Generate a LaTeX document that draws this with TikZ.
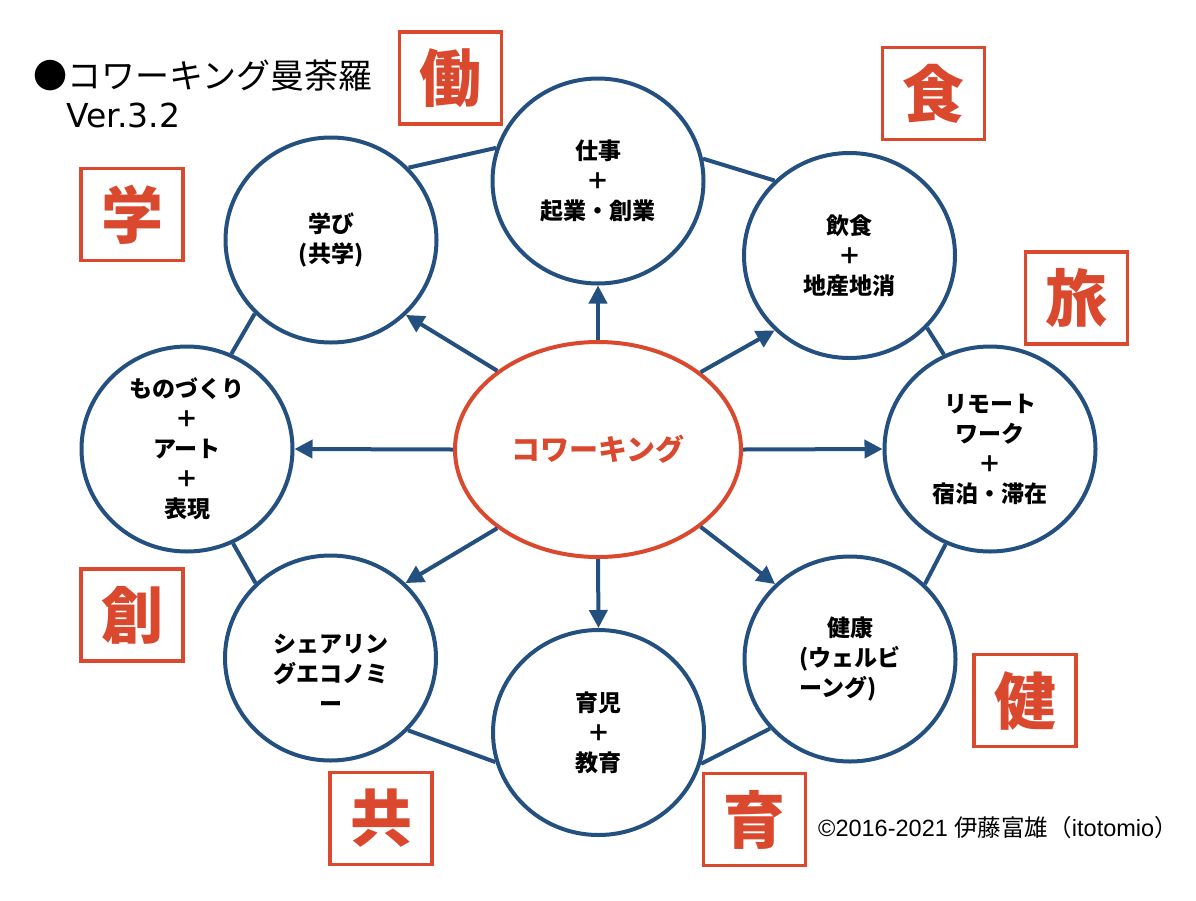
\documentclass[tikz,border=0pt]{standalone}
\usepackage{fontspec}
\usetikzlibrary{shapes.geometric,arrows.meta}
\setmainfont{Liberation Sans}
\newfontfamily\jp{Noto Sans CJK JP}
\newfontfamily\dv{DejaVu Sans}
\definecolor{myblue}{RGB}{36,80,128}
\definecolor{myred}{RGB}{218,72,46}
\begin{document}
\begin{tikzpicture}[x=1pt,y=-1pt,
  circ/.style={draw=myblue, line width=4pt, fill=white, ellipse, minimum width=211pt, minimum height=205pt, inner sep=0pt, align=center, font=\jp\bfseries\fontsize{23}{30}\selectfont},
  ctext/.style={align=center, inner sep=0pt, font=\jp\bfseries\fontsize{23}{30}\selectfont},
  hub/.style={draw=myred, line width=4pt, fill=white, ellipse, minimum width=286pt, minimum height=215pt, inner sep=0pt, text=myred, font=\jp\bfseries\fontsize{29}{30}\selectfont},
  kbox/.style={draw=myred, line width=3.5pt, fill=white, minimum width=102pt, minimum height=92pt, inner sep=0pt, text=myred, font=\jp\bfseries\fontsize{62}{62}\selectfont},
  ring/.style={draw=myblue, line width=4pt},
  arr/.style={draw=myblue, line width=4pt, -{Triangle[length=18pt,width=18pt]}},
  plain/.style={inner sep=0pt}
]
\useasboundingbox (0,0) rectangle (1196,900);
\fill[white] (0,0) rectangle (1196,900);

% title
\node[plain, anchor=west, font=\jp\fontsize{34}{34}\selectfont] (title) at (33,76) {●コワーキング曼荼羅};
\node[plain, anchor=base west, font=\dv\fontsize{33}{33}\selectfont] (ver) at (66,127) {Ver.3.2};

% hub
\node[hub] (O) at (598,449.5) {コワーキング};

% circles
\node[circ] (A) at (598,181) {仕事\\＋\\起業・創業};
\node[circ] (B) at (331,240) {学び\\(共学)};
\node[circ] (C) at (849.5,255.5) {飲食\\＋\\地産地消};
\node[circ] (D) at (187,449) {ものづくり\\＋\\アート\\＋\\表現};
\node[circ] (E) at (990,449) {リモート\\ワーク\\＋\\宿泊・滞在};
\node[circ] (F) at (330.5,658) {};
\node[ctext] (Ft) at (330.5,673) {シェアリン\\グエコノミ\\ー};
\node[circ] (G) at (850,659) {健康\\\rlap{(ウェルビ}\phantom{(ウェルビ}\\\rlap{ーング)}\phantom{(ウェルビ}};
\node[circ] (H) at (598.5,732.5) {育児\\＋\\教育};

% ring connectors
\draw[ring] (B.43.9) -- (A.162.6);
\draw[ring] (A.12) -- (C.135.7);
\draw[ring] (C.-43.9) -- (E.116.6);
\draw[ring] (E.-115) -- (G.45.7);
\draw[ring] (G.-139) -- (H.-17.2);
\draw[ring] (H.196.8) -- (F.-43.7);
\draw[ring] (F.135.9) -- (D.-64.4);
\draw[ring] (D.65.9) -- (B.-136.1);

% arrows
\draw[arr] (O.142.9) -- (B.-45);
\draw[arr] (O.90) -- (A.-90);
\draw[arr] (O.37.1) -- (C.-135);
\draw[arr] (O.0) -- (E.180);
\draw[arr] (O.-37.1) -- (G.135);
\draw[arr] (O.-90) -- (H.90);
\draw[arr] (O.-142.9) -- (F.45);
\draw[arr] (O.180) -- (D.0);

% kanji boxes
\node[kbox] (k1) at (450.5,78) {働};
\node[kbox] (k2) at (933.5,93.5) {食};
\node[kbox] (k3) at (132,214.5) {学};
\node[kbox] (k4) at (1076.5,298) {旅};
\node[kbox] (k5) at (132,615) {創};
\node[kbox] (k6) at (1025,700.5) {健};
\node[kbox] (k7) at (381,818.5) {共};
\node[kbox] (k8) at (754.5,819.5) {育};

% copyright
\node[plain, anchor=base west, font=\fontsize{23.5}{23.5}\selectfont] (copy) at (818,836) {©2016-2021 {\jp 伊藤富雄（}itotomio{\jp ）}};
\end{tikzpicture}
\end{document}
